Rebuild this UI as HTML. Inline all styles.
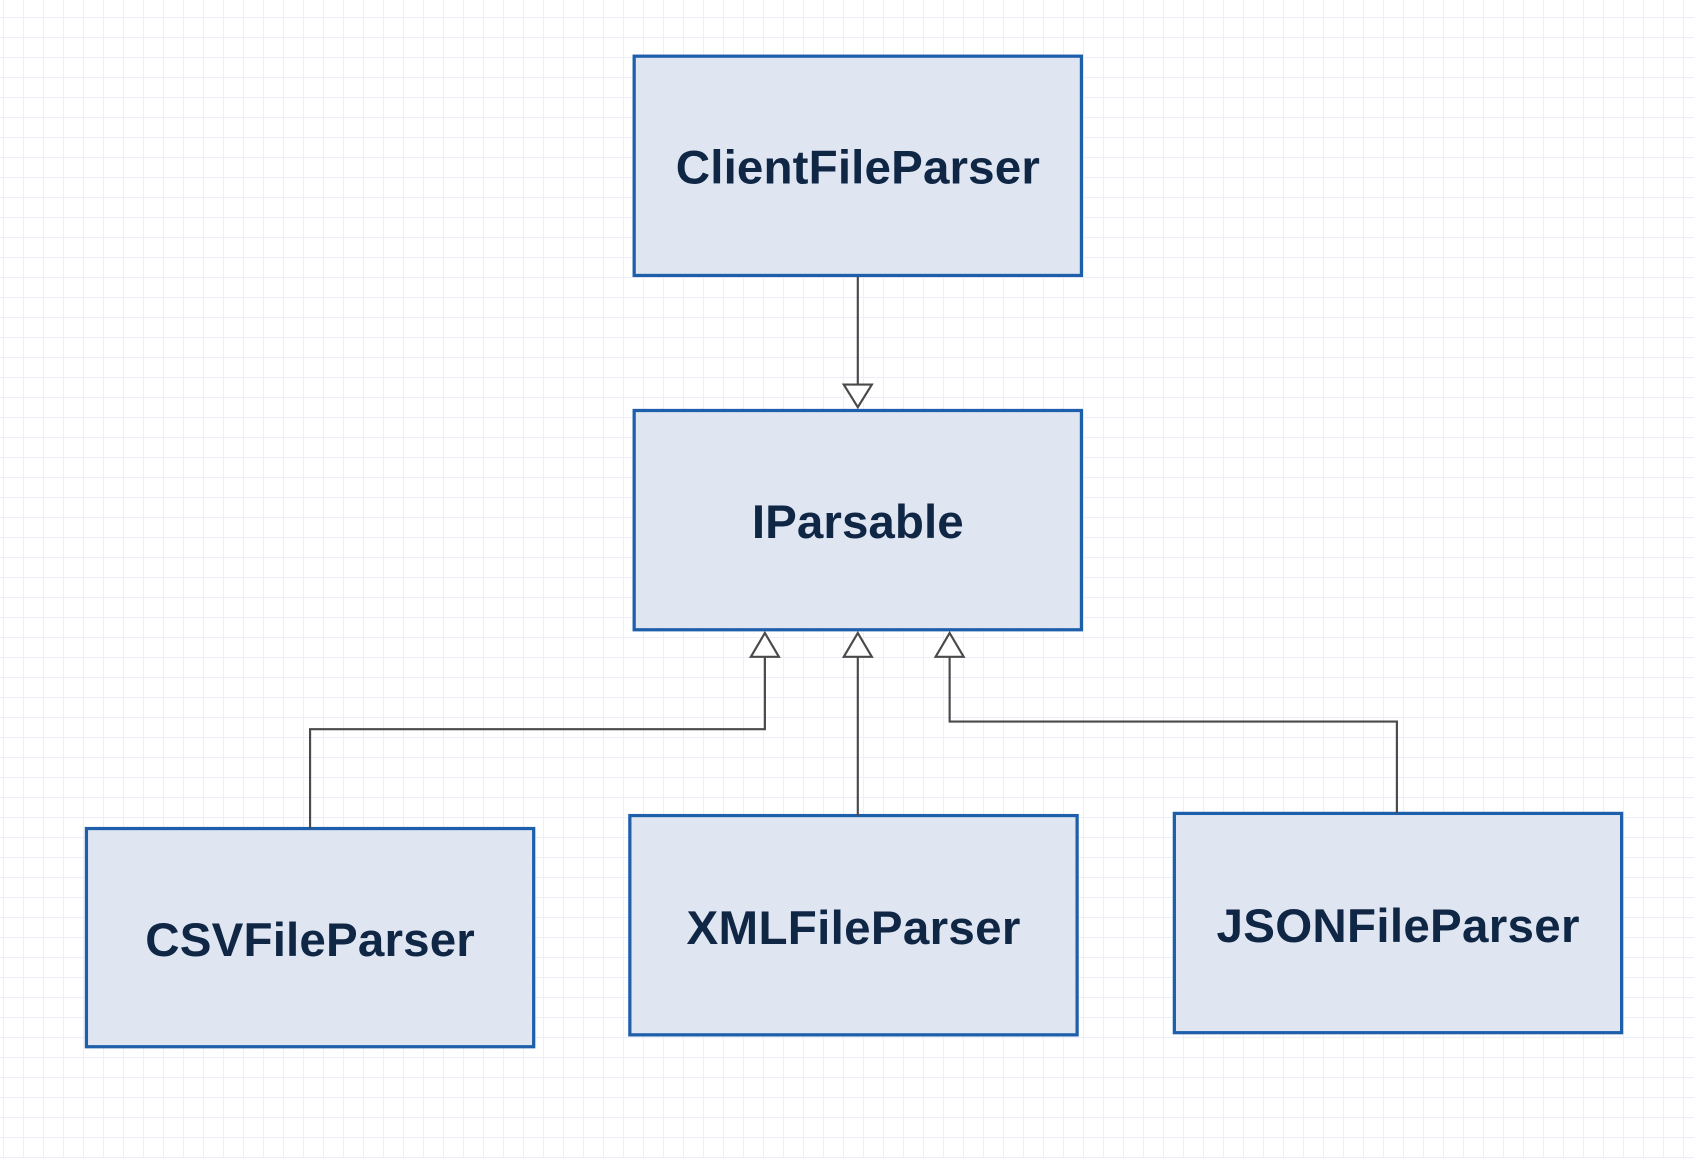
<!DOCTYPE html>
<html><head><style>
html,body{margin:0;padding:0;background:#fff}
body{width:1694px;height:1158px;overflow:hidden;
background-image:linear-gradient(to right,#eceefa 1px,transparent 1px),linear-gradient(to bottom,#eceefa 1px,transparent 1px);
background-size:20px 20px;background-position:3px 17px}
svg{position:absolute;left:0;top:0}
text{font-family:"Liberation Sans",Arial,sans-serif;font-weight:bold;fill:#0f2645;font-size:44px}
</style></head><body>
<svg width="1694" height="1158" viewBox="0 0 1568 1072" preserveAspectRatio="none">
<g fill="#dfe6f2" stroke="#1d5fab" stroke-width="3">
<rect x="587" y="52" width="414" height="203"/>
<rect x="587" y="380" width="414" height="203"/>
<rect x="80" y="767" width="414" height="202"/>
<rect x="583" y="755" width="414" height="203"/>
<rect x="1087" y="753" width="414" height="203"/>
</g>
<g fill="none" stroke="#4a4a4a" stroke-width="2">
<polyline points="794,256 794,356"/>
<polyline points="287,767 287,675 708,675 708,608"/>
<polyline points="794,755 794,608"/>
<polyline points="1293,753 1293,668 879,668 879,608"/>
</g>
<g fill="#fff" stroke="#4a4a4a" stroke-width="2">
<polygon points="781,356 807,356 794,377"/>
<polygon points="695,608 721,608 708,586"/>
<polygon points="781,608 807,608 794,586"/>
<polygon points="866,608 892,608 879,586"/>
</g>
<text x="794" y="170" text-anchor="middle" textLength="337">ClientFileParser</text>
<text x="794" y="498" text-anchor="middle" textLength="196">IParsable</text>
<text x="287" y="885" text-anchor="middle" textLength="305">CSVFileParser</text>
<text x="790" y="874" text-anchor="middle" textLength="309">XMLFileParser</text>
<text x="1294" y="872" text-anchor="middle" textLength="336">JSONFileParser</text>
</svg>
</body></html>
